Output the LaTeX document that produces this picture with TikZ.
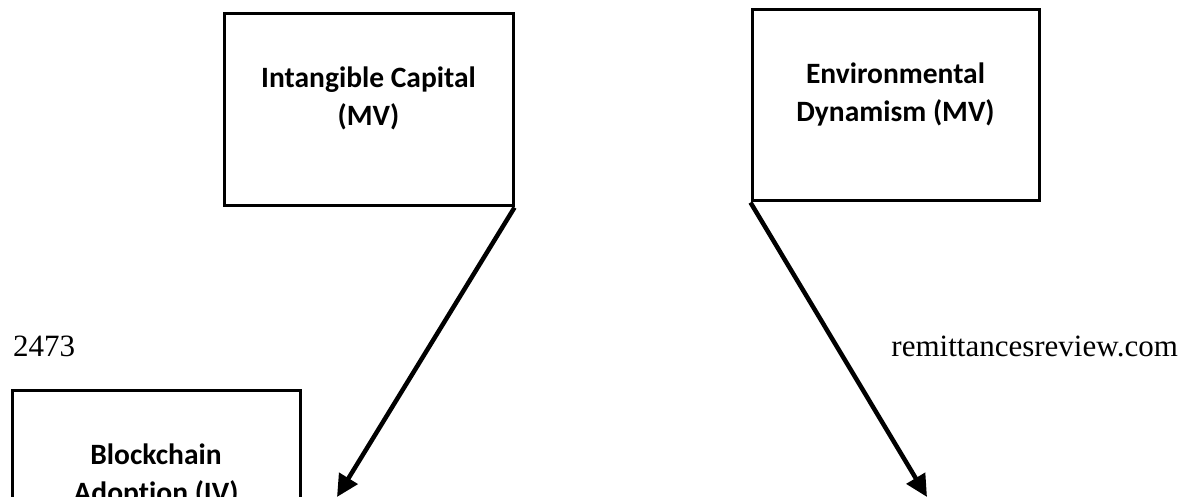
\documentclass[tikz,border=0pt]{standalone}
\usepackage{fontspec}
\setmainfont{Carlito}[Ligatures=NoCommon]
\newfontfamily\pagefont{Liberation Serif}
\usetikzlibrary{arrows.meta}
\begin{document}
\begin{tikzpicture}[x=1pt,y=-1pt,
    varbox/.style={draw,line width=3pt,align=center,inner sep=0pt,
        font=\bfseries\fontsize{29.5}{38}\selectfont},
    link/.style={line width=4.5pt,-{Triangle[length=22pt,width=21pt]}},
    pagetext/.style={inner sep=0pt,font=\pagefont\fontsize{31}{36}\selectfont}]
    \useasboundingbox (0,0) rectangle (1186,497);
    \clip (0,0) rectangle (1186,497);
    % the three variables
    \node[varbox,minimum width=289pt,minimum height=192pt,text depth=27pt] (ic) at (368.5,110)
        {Intangible Capital\\(MV)};
    \node[varbox,minimum width=287pt,minimum height=191pt,text depth=27pt] (ed) at (895.5,105.5)
        {Environmental\\Dynamism (MV)};
    \node[varbox,minimum width=288pt,minimum height=170pt] (ba) at (156,475)
        {Blockchain\\Adoption (IV)};
    % page header
    \node[pagetext,anchor=base west] (pnum) at (13,356) {2473};
    \node[pagetext,anchor=base east] (site) at (1178,356) {remittancesreview.com};
    % links
    \coordinate (ictip) at (337,497);
    \coordinate (edtip) at (927,497);
    \draw[link] (ic.south east) -- (ictip);
    \draw[link] (ed.south west) -- (edtip);
\end{tikzpicture}
\end{document}
